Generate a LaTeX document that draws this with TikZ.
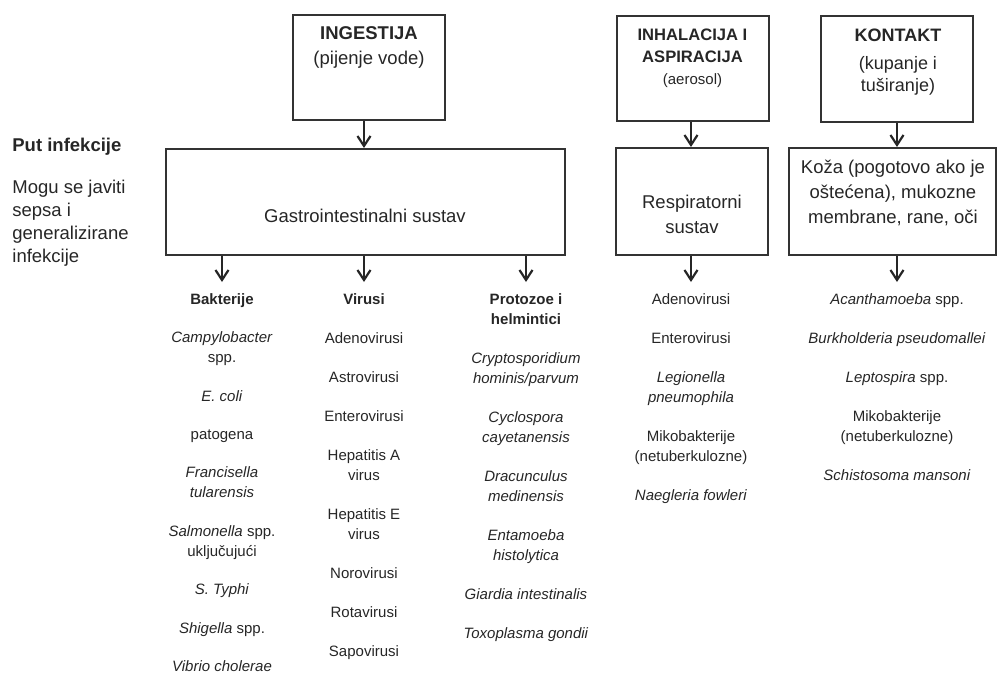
\documentclass[tikz,border=0pt]{standalone}
\usepackage{fontspec}
\setmainfont{Liberation Sans}
\usetikzlibrary{arrows.meta}

\begin{document}
\begin{tikzpicture}[x=0.5pt, y=-0.5pt,
  box/.style={draw=black!80, line width=1pt, inner sep=0pt},
  txt/.style={align=center, inner sep=0pt, anchor=north, text=black!85, font=\fontsize{9.25}{12.5}\selectfont},
  col/.style={align=center, inner sep=0pt, anchor=north, text=black!85, font=\fontsize{7.5}{10}\selectfont},
  arr/.style={line width=1.1pt, draw=black!85, -{Straight Barb[length=5pt,width=6.5pt]}}]
  \useasboundingbox (0,0) rectangle (998,676);

  % Left side text
  \node[txt, anchor=north west, align=left] (put) at (12,138) {\textbf{Put infekcije}};
  \node[txt, anchor=north west, align=left, font=\fontsize{9.25}{11.5}\selectfont] (napomena) at (12,180)
    {Mogu se javiti\\sepsa i\\generalizirane\\infekcije};

  % Boxes of the routes
  \node[box, minimum width=76pt, minimum height=52.5pt] (ing) at (369,67.5) {};
  \node[box, minimum width=76pt, minimum height=52.5pt] (inh) at (693,68.5) {};
  \node[box, minimum width=76pt, minimum height=53pt] (kon) at (897,69) {};
  \node[box, minimum width=199.5pt, minimum height=53pt] (gas) at (365.5,202) {};
  \node[box, minimum width=76pt, minimum height=53.5pt] (res) at (692,201.5) {};
  \node[box, minimum width=103.5pt, minimum height=53.5pt] (koz) at (892.5,201.5) {};

  % Texts in the boxes
  \node[txt] (ingt) at (369,26.5) {\textbf{INGESTIJA}\\(pijenje vode)};
  \node[txt, font=\fontsize{8.3}{11}\selectfont] (inht) at (692.5,29)
    {\textbf{INHALACIJA I}\\\textbf{ASPIRACIJA}\\{\fontsize{7.5}{11}\selectfont(aerosol)}};
  \node[txt, font=\fontsize{9}{11}\selectfont] (kont) at (898,28.5)
    {\textbf{KONTAKT}\\[3pt](kupanje i\\tuširanje)};
  \node[txt] (gast) at (365,209) {Gastrointestinalni sustav};
  \node[txt] (rest) at (692,195) {Respiratorni\\sustav};
  \node[txt] (kozt) at (893,160) {Koža (pogotovo ako je\\oštećena), mukozne\\membrane, rane, oči};

  % Columns of the arrows
  \coordinate (c1) at (222,0);
  \coordinate (c2) at (364,0);
  \coordinate (c3) at (526,0);
  \coordinate (c4) at (691,0);
  \coordinate (c5) at (897,0);
  \coordinate (e1) at (222,282);
  \coordinate (e2) at (364,282);
  \coordinate (e3) at (526,282);
  \coordinate (e4) at (691,282);
  \coordinate (e5) at (897,282);

  % Arrows
  \draw[arr] (ing.south -| c2) -- (gas.north -| c2);
  \draw[arr] (inh.south -| c4) -- (res.north -| c4);
  \draw[arr] (kon.south -| c5) -- (koz.north -| c5);
  \draw[arr] (gas.south -| e1) -- (e1);
  \draw[arr] (gas.south -| e2) -- (e2);
  \draw[arr] (gas.south -| e3) -- (e3);
  \draw[arr] (res.south -| e4) -- (e4);
  \draw[arr] (koz.south -| e5) -- (e5);

  % Lists of pathogens
  \node[col] (bak) at (222,293) {\textbf{Bakterije}\\[9.2pt]
    \textit{Campylobacter}\\spp.\\[9.2pt]
    \textit{E. coli}\\[9.2pt]
    patogena\\[9.2pt]
    \textit{Francisella}\\\textit{tularensis}\\[9.2pt]
    \textit{Salmonella} spp.\\uključujući\\[9.2pt]
    \textit{S. Typhi}\\[9.2pt]
    \textit{Shigella} spp.\\[9.2pt]
    \textit{Vibrio cholerae}};
  \node[col] (vir) at (364,293.5) {\textbf{Virusi}\\[9.5pt]
    Adenovirusi\\[9.5pt]
    Astrovirusi\\[9.5pt]
    Enterovirusi\\[9.5pt]
    Hepatitis A\\virus\\[9.5pt]
    Hepatitis E\\virus\\[9.5pt]
    Norovirusi\\[9.5pt]
    Rotavirusi\\[9.5pt]
    Sapovirusi};
  \node[col] (pro) at (526,293.5) {\textbf{Protozoe i}\\\textbf{helmintici}\\[9.5pt]
    \textit{Cryptosporidium}\\\textit{hominis/parvum}\\[9.5pt]
    \textit{Cyclospora}\\\textit{cayetanensis}\\[9.5pt]
    \textit{Dracunculus}\\\textit{medinensis}\\[9.5pt]
    \textit{Entamoeba}\\\textit{histolytica}\\[9.5pt]
    \textit{Giardia intestinalis}\\[9.5pt]
    \textit{Toxoplasma gondii}};
  \node[col] (resl) at (691,293) {Adenovirusi\\[9.5pt]
    Enterovirusi\\[9.5pt]
    \textit{Legionella}\\\textit{pneumophila}\\[9.5pt]
    Mikobakterije\\(netuberkulozne)\\[9.5pt]
    \textit{Naegleria fowleri}};
  \node[col] (kozl) at (897,293.5) {\textit{Acanthamoeba} spp.\\[9.5pt]
    \textit{Burkholderia pseudomallei}\\[9.5pt]
    \textit{Leptospira} spp.\\[9.5pt]
    Mikobakterije\\(netuberkulozne)\\[9.5pt]
    \textit{Schistosoma mansoni}};
\end{tikzpicture}
\end{document}
